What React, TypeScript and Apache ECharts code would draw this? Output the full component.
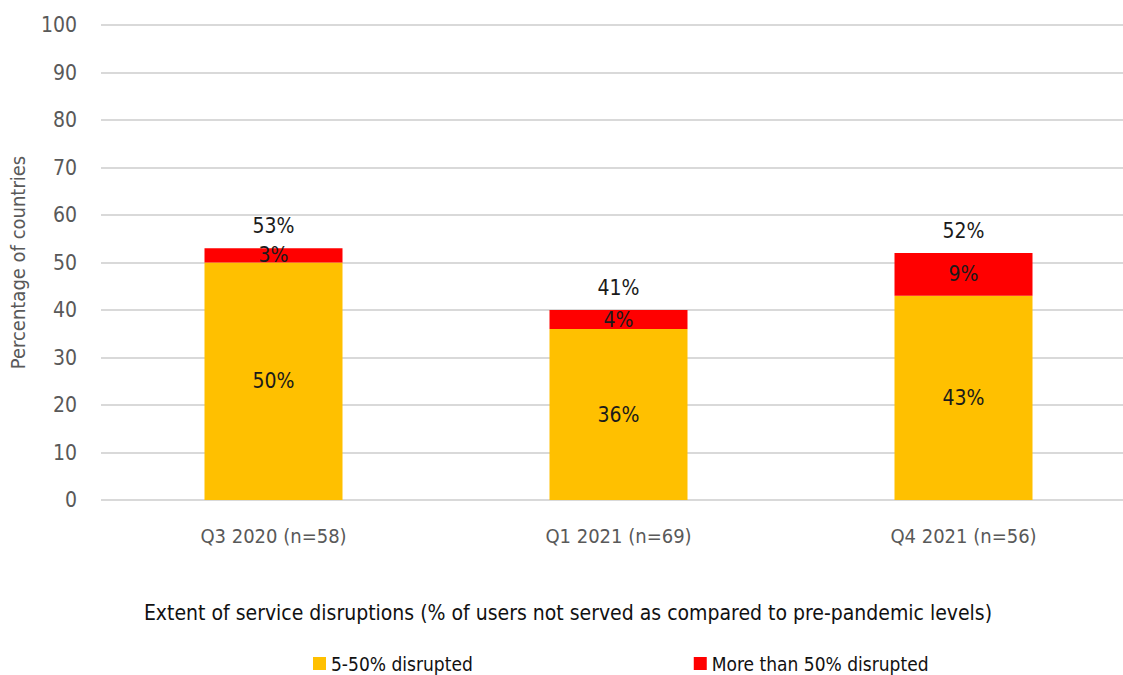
import React, { useEffect, useRef } from "react";
import * as echarts from "echarts";

const categories = ["Q3 2020 (n=58)", "Q1 2021 (n=69)", "Q4 2021 (n=56)"];
const moderate = [50, 36, 43];
const severe = [3, 4, 9];
const totals = [53, 41, 52];
const seriesNames = ["5-50% disrupted", "More than 50% disrupted"];
const yTicks = { min: 0, max: 100, interval: 10 };

const FONT = "'Liberation Sans Narrow', 'DejaVu Sans Condensed', 'Roboto Condensed', sans-serif";

export default function App() {
  const ref = useRef<HTMLDivElement>(null);
  useEffect(() => {
    document.body.style.margin = "0";
    const chart = echarts.init(ref.current!, null, { renderer: "svg" });
    chart.setOption({
      animation: false,
      textStyle: { fontFamily: FONT },
      title: {
        text: "Extent of service disruptions (% of users not served as compared to pre-pandemic levels)",
        left: 563,
        textAlign: "center",
        top: 597,
        textStyle: { fontFamily: FONT, fontSize: 21, fontWeight: "normal", color: "#111" },
      },
      legend: {
        data: seriesNames,
        top: 649,
        left: 308,
        itemGap: 221,
        itemWidth: 13,
        itemHeight: 13,
        icon: "rect",
        textStyle: { fontFamily: FONT, fontSize: 19, color: "#111" },
      },
      grid: {
        left: 101,
        top: 25,
        width: 1035,
        height: 475,
        containLabel: false,
        outerBoundsMode: "none",
      },
      xAxis: {
        type: "category",
        data: categories,
        axisLine: { show: false },
        axisTick: { show: false },
        axisLabel: { fontFamily: FONT, fontSize: 20, color: "#595959", margin: 26 },
      },
      yAxis: {
        type: "value",
        min: yTicks.min,
        max: yTicks.max,
        interval: yTicks.interval,
        name: "Percentage of countries",
        nameLocation: "middle",
        nameGap: 73,
        nameTextStyle: { fontFamily: FONT, fontSize: 20, color: "#595959" },
        axisLabel: { fontFamily: FONT, fontSize: 21, color: "#595959", margin: 24 },
        splitLine: { lineStyle: { color: "#d9d9d9", width: 2 } },
        axisLine: { show: false },
        axisTick: { show: false },
      },
      series: [
        {
          name: seriesNames[0],
          type: "bar",
          stack: "total",
          data: moderate,
          barWidth: 138,
          itemStyle: { color: "#FFC000" },
          label: {
            show: true,
            position: "inside",
            formatter: "{c}%",
            fontFamily: FONT,
            fontSize: 21,
            color: "#1a1a1a",
          },
        },
        {
          name: seriesNames[1],
          type: "bar",
          stack: "total",
          data: severe,
          barWidth: 138,
          itemStyle: { color: "#FF0000" },
          label: {
            show: true,
            position: "inside",
            formatter: "{c}%",
            fontFamily: FONT,
            fontSize: 21,
            color: "#1a1a1a",
          },
        },
        {
          name: "Total",
          type: "bar",
          stack: "total",
          data: totals.map(() => 0),
          barWidth: 138,
          itemStyle: { color: "transparent" },
          label: {
            show: true,
            position: "top",
            distance: 12,
            formatter: (p: any) => totals[p.dataIndex] + "%",
            fontFamily: FONT,
            fontSize: 21,
            color: "#1a1a1a",
          },
        },
      ],
    });
    return () => chart.dispose();
  }, []);
  return <div ref={ref} style={{ width: 1123, height: 675 }} />;
}
